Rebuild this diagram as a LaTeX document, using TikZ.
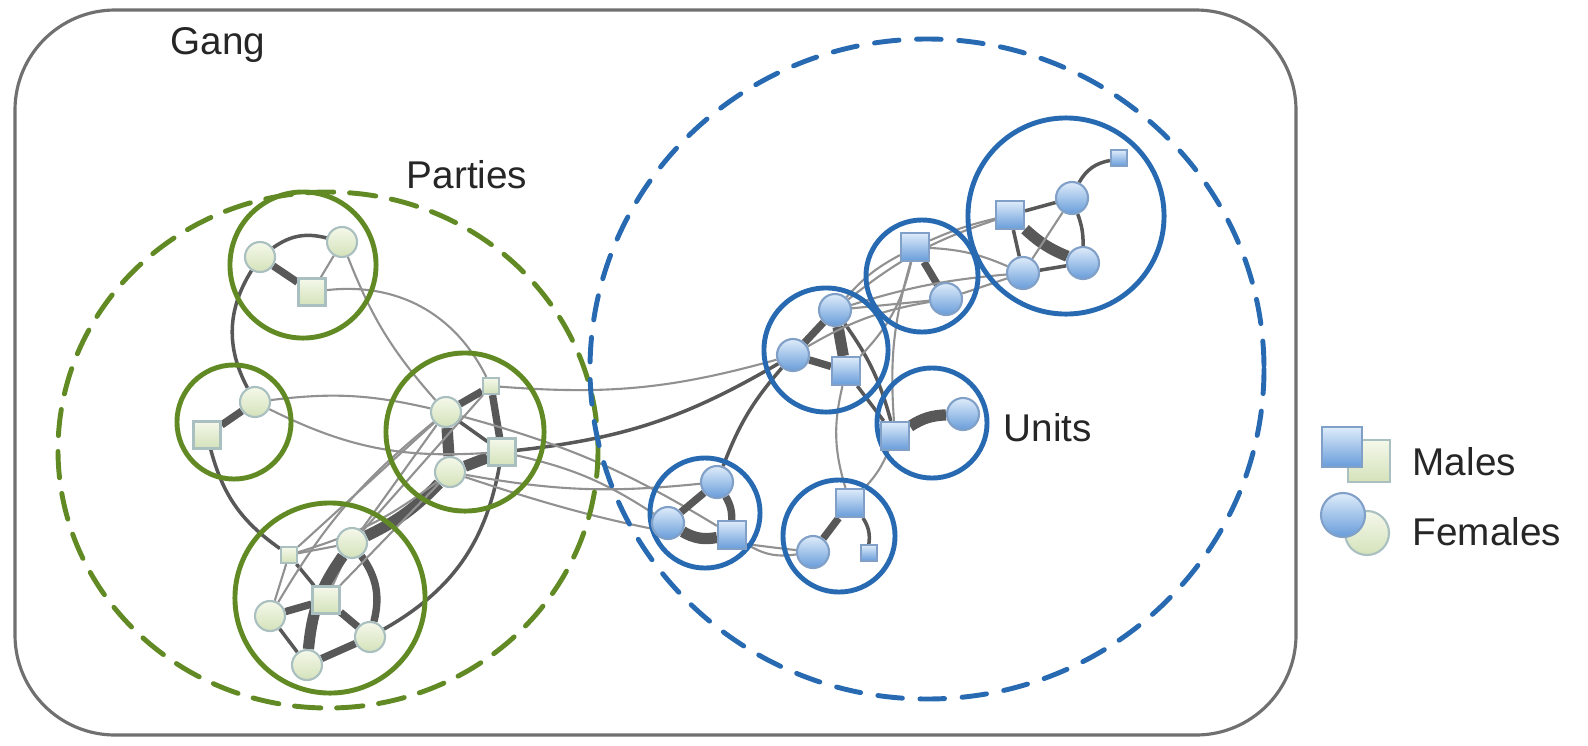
\documentclass[tikz,border=0pt]{standalone}
\usepackage{fontspec}
\setmainfont{Liberation Sans}
\usetikzlibrary{positioning}

\definecolor{partygreen}{RGB}{98,138,36}
\definecolor{unitblue}{RGB}{40,106,178}
\definecolor{framegray}{RGB}{112,112,112}
\definecolor{tiedark}{RGB}{88,88,88}
\definecolor{tielight}{RGB}{145,145,145}
\definecolor{greentop}{RGB}{244,248,234}
\definecolor{greenbot}{RGB}{212,226,186}
\definecolor{greenedge}{RGB}{170,192,192}
\definecolor{bluetop}{RGB}{222,236,250}
\definecolor{bluebot}{RGB}{104,156,218}
\definecolor{blueedge}{RGB}{128,160,200}

\pgfdeclarelayer{ties}
\pgfsetlayers{ties,main}

\tikzset{
  lbl/.style={font=\fontsize{11}{13}\selectfont,text=black!85,inner sep=0pt},
  gfemale/.style={circle,minimum size=0.30cm,inner sep=0pt,draw=greenedge,line width=0.6pt,top color=greentop,bottom color=greenbot},
  gmale/.style={rectangle,minimum size=0.27cm,inner sep=0pt,draw=greenedge,line width=0.6pt,top color=greentop,bottom color=greenbot},
  bfemale/.style={circle,minimum size=0.32cm,inner sep=0pt,draw=blueedge,line width=0.6pt,top color=bluetop,bottom color=bluebot},
  bmale/.style={rectangle,minimum size=0.28cm,inner sep=0pt,draw=blueedge,line width=0.6pt,top color=bluetop,bottom color=bluebot},
  small/.style={minimum size=0.16cm},
  party/.style={circle,draw=partygreen,line width=1.4pt,inner sep=0pt},
  unit/.style={circle,draw=unitblue,line width=1.4pt,inner sep=0pt},
  weaktie/.style={draw=tielight,line width=0.6pt},
  tie/.style={draw=tiedark,line width=1pt},
  strongtie/.style={draw=tiedark,line width=2.1pt},
  heavytie/.style={draw=tiedark,line width=3.2pt}
}

\begin{document}
\begin{tikzpicture}[x=0.01cm,y=-0.01cm,line cap=round]
\useasboundingbox (0,0) rectangle (1588,745);

% outer frame and the two dashed groupings
\draw[framegray,line width=0.9pt,rounded corners=1cm] (15,10) rectangle (1296,735);
\draw[partygreen,line width=1.4pt,dash pattern=on 7.5pt off 4.5pt] (328,450) ellipse [x radius=270,y radius=258];
\draw[unitblue,line width=1.4pt,dash pattern=on 7pt off 5pt] (927,369) ellipse [x radius=337,y radius=330];

\node[lbl] (gang) at (218,45) {Gang};
\node[lbl] (parties) at (467,175) {Parties};
\node[lbl,anchor=west] (units) at (1003,428) {Units};

% parties
\node[party,minimum size=1.46cm] (g1) at (303,265) {};
\node[party,minimum size=1.14cm] (g2) at (234,422) {};
\node[party,minimum size=1.58cm] (g3) at (465,432) {};
\node[party,minimum size=1.90cm] (g4) at (330,598) {};

\node[gfemale] (pa1) at (260,257) {};
\node[gfemale] (pa2) at (342,242) {};
\node[gmale] (pa3) at (312,292) {};
\node[gfemale] (pb1) at (255,402) {};
\node[gmale] (pb2) at (207,435) {};
\node[gfemale] (pc1) at (446,412) {};
\node[gmale,small] (pc2) at (491,386) {};
\node[gmale] (pc3) at (502,452) {};
\node[gfemale] (pc4) at (450,472) {};
\node[gmale,small] (pd1) at (289,555) {};
\node[gfemale] (pd2) at (352,543) {};
\node[gmale] (pd3) at (326,600) {};
\node[gfemale] (pd4) at (270,616) {};
\node[gfemale] (pd5) at (370,637) {};
\node[gfemale] (pd6) at (307,665) {};

% units
\node[unit,minimum size=1.10cm] (b1) at (705,513) {};
\node[unit,minimum size=1.12cm] (b2) at (839,536) {};
\node[unit,minimum size=1.24cm] (b3) at (826,350) {};
\node[unit,minimum size=1.10cm] (b4) at (932,423) {};
\node[unit,minimum size=1.12cm] (b5) at (922,276) {};
\node[unit,minimum size=1.96cm] (b6) at (1066,216) {};

\node[bfemale] (ua1) at (717,482) {};
\node[bfemale] (ua2) at (668,523) {};
\node[bmale] (ua3) at (732,535) {};
\node[bmale] (ub1) at (850,503) {};
\node[bfemale] (ub2) at (813,552) {};
\node[bmale,small] (ub3) at (869,553) {};
\node[bfemale] (uc1) at (835,310) {};
\node[bfemale] (uc2) at (793,355) {};
\node[bmale] (uc3) at (846,371) {};
\node[bmale] (ud1) at (895,436) {};
\node[bfemale] (ud2) at (963,414) {};
\node[bmale] (ue1) at (915,247) {};
\node[bfemale] (ue2) at (946,299) {};
\node[bmale] (uf1) at (1010,215) {};
\node[bfemale] (uf2) at (1072,198) {};
\node[bfemale] (uf3) at (1023,273) {};
\node[bfemale] (uf4) at (1083,263) {};
\node[bmale,small] (uf5) at (1119,158) {};

\begin{pgfonlayer}{ties}
% ties inside the parties
\draw[tie] (pa1) to[bend left=25] (pa2);
\draw[strongtie] (pa1) -- (pa3);
\draw[weaktie] (pa2) -- (pa3);
\draw[tie] (pa1) to[bend right=30] (pb1);
\draw[strongtie] (pb1) -- (pb2);
\draw[tie] (pb2) to[bend right=20] (pd1);
\draw[strongtie] (pc1) -- (pc2);
\draw[heavytie] (pc1) -- (pc4);
\draw[heavytie] (pc4) -- (pc3);
\draw[strongtie] (pc2) -- (pc3);
\draw[tie] (pc1) -- (pc3);
\draw[tie] (pd1) -- (pd3);
\draw[weaktie] (pd1) -- (pd4);
\draw[weaktie] (pd1) -- (pd2);
\draw[weaktie] (pd2) -- (pd3);
\draw[strongtie] (pd2) to[bend left=25] (pd5);
\draw[strongtie] (pd3) -- (pd4);
\draw[strongtie] (pd3) -- (pd5);
\draw[tie] (pd4) -- (pd6);
\draw[heavytie] (pd6) to[bend left=15] (pd2);
\draw[strongtie] (pd6) -- (pd5);

% ties between parties
\draw[weaktie] (pa3) to[bend left=35] (pc2);
\draw[weaktie] (pa2) to[bend right=10] (pc1);
\draw[weaktie] (pb1) to[bend left=10] (pc1);
\draw[weaktie] (pb1) to[bend right=15] (pc3);
\draw[heavytie] (pc4) to[bend left=10] (pd2);
\draw[tie] (pc3) to[bend left=25] (pd5);
\draw[weaktie] (pc1) -- (pd1);
\draw[weaktie] (pc1) to[bend right=10] (pd4);
\draw[weaktie] (pc2) -- (pd2);
\draw[weaktie] (pc4) -- (pd3);
\draw[weaktie] (pc4) to[bend left=10] (pd1);
\draw[weaktie] (pc1) -- (pd2);

% ties across the gang
\draw[tie] (pc3) to[bend right=12] (uc2);
\draw[weaktie] (pc3) to[bend left=10] (ua2);
\draw[weaktie] (pc4) to[bend right=8] (ua1);
\draw[weaktie] (pc1) to[bend left=8] (ua3);
\draw[weaktie] (pc2) to[bend right=10] (uc2);
\draw[weaktie] (pc4) to[bend right=6] (ub2);

% ties inside the units
\draw[strongtie] (ua1) -- (ua2);
\draw[heavytie] (ua2) to[bend right=20] (ua3);
\draw[strongtie] (ua1) to[bend left=15] (ua3);
\draw[tie] (ua1) to[bend left=10] (uc2);
\draw[weaktie] (ua3) to[bend right=20] (ub2);
\draw[strongtie] (ub1) -- (ub2);
\draw[tie] (ub1) to[bend left=20] (ub3);
\draw[weaktie] (ub1) to[bend left=15] (uc3);
\draw[weaktie] (ub1) to[bend right=10] (ud1);
\draw[strongtie] (uc1) -- (uc2);
\draw[strongtie] (uc2) -- (uc3);
\draw[heavytie] (uc1) -- (uc3);
\draw[tie] (uc1) to[bend left=10] (ud1);
\draw[tie] (uc3) -- (ud1);
\draw[heavytie] (ud1) to[bend left=15] (ud2);
\draw[weaktie] (uc2) to[bend left=10] (ue2);
\draw[weaktie] (uc1) to[bend left=10] (ue1);
\draw[weaktie] (uc1) -- (ue2);
\draw[weaktie] (uc3) to[bend right=15] (ue1);
\draw[weaktie] (ud1) to[bend left=10] (ue1);
\draw[strongtie] (ue1) -- (ue2);
\draw[weaktie] (ue1) to[bend left=5] (uf1);
\draw[weaktie] (ue1) to[bend left=10] (uf3);
\draw[weaktie] (ue2) -- (uf3);
\draw[weaktie] (uc1) to[bend left=10] (uf1);
\draw[weaktie] (uc1) to[bend left=6] (uf3);
\draw[tie] (uf1) -- (uf2);
\draw[heavytie] (uf1) to[bend right=10] (uf4);
\draw[tie] (uf1) -- (uf3);
\draw[tie] (uf2) to[bend left=10] (uf4);
\draw[weaktie] (uf2) -- (uf3);
\draw[tie] (uf3) -- (uf4);
\draw[tie] (uf2) to[bend left=25] (uf5);
\end{pgfonlayer}

% key
\node[gmale,minimum size=0.42cm] (keym2) at (1369,461) {};
\node[bmale,minimum size=0.40cm] (keym1) at (1342,447) {};
\node[gfemale,minimum size=0.44cm] (keyf2) at (1367,533) {};
\node[bfemale,minimum size=0.44cm] (keyf1) at (1343,515) {};
\node[lbl,anchor=west] (males) at (1412,462) {Males};
\node[lbl,anchor=west] (females) at (1412,532) {Females};

\end{tikzpicture}
\end{document}
